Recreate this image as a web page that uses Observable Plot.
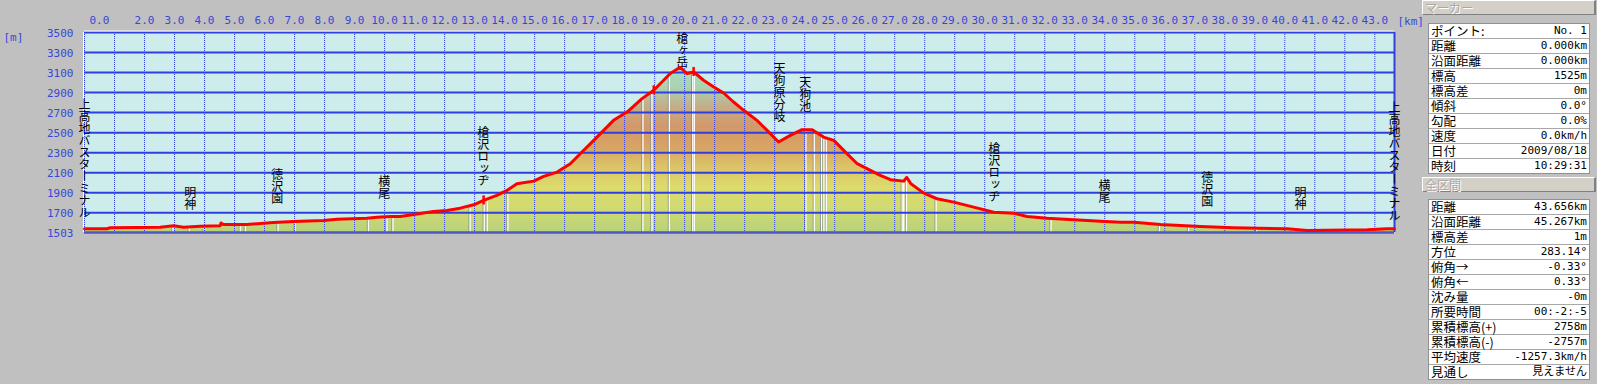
<!DOCTYPE html>
<html><head><meta charset="utf-8">
<script src="https://cdn.jsdelivr.net/npm/d3@7"></script>
<script src="https://cdn.jsdelivr.net/npm/@observablehq/plot@0.6"></script>
<style>
html,body{margin:0;padding:0;background:#c0c0c0;}
#wrap{position:relative;width:1597px;height:384px;overflow:hidden;background:#c0c0c0;}
#chart{position:absolute;left:0;top:0;}
.hdr{position:absolute;left:1422px;width:169px;height:13px;background:#d4d0c8;border-top:1px solid #fff;border-left:1px solid #fff;border-right:2px solid #808080;border-bottom:1px solid #808080;color:#a8a8a8;text-shadow:1px 1px 0 #fff;font-family:"Noto Sans CJK JP",sans-serif;font-size:12px;line-height:13px;padding-left:2px;}
.tbl{position:absolute;left:1428px;width:160px;background:#fff;border:1px solid #909090;}
.row{height:14px;border-bottom:1px solid #a8a8a8;display:flex;justify-content:space-between;align-items:center;padding:0 2px;font-size:12px;line-height:14px;color:#000;}
.row:last-child{border-bottom:none;}
.row .k{font-family:"Noto Sans CJK JP",sans-serif;font-size:12.5px;}
.row .v{font-family:"DejaVu Sans Mono","Noto Sans CJK JP",monospace;font-size:11px;}
svg text.vert{writing-mode:vertical-rl;text-orientation:mixed;}
</style>
</head><body>
<div id="wrap">
  <div id="chart"></div>
  <div class="hdr" style="top:0px">マーカー</div>
  <div class="tbl" id="t1" style="top:23px"></div>
  <div class="hdr" style="top:177px">全区間</div>
  <div class="tbl" id="t2" style="top:199px"></div>
</div>
<script>
// ---- data ----
const profileKm = [0.00,0.75,0.86,2.52,2.97,3.30,3.86,4.52,4.55,4.63,5.41,6.30,6.97,7.97,8.41,9.41,9.75,10.19,10.52,10.97,11.63,12.08,12.52,12.97,13.30,13.74,14.08,14.41,14.97,15.30,15.75,16.19,16.52,16.97,17.30,17.63,18.08,18.58,18.97,19.30,19.52,19.85,20.08,20.30,20.63,20.97,21.30,21.63,21.97,22.41,22.75,23.13,23.52,23.91,24.25,24.63,24.97,25.30,25.75,26.19,26.52,26.86,27.30,27.40,27.54,27.97,28.41,28.97,29.63,30.30,30.97,31.41,32.08,32.97,33.86,34.52,34.97,35.86,37.19,38.30,40.08,40.75,42.75,43.41,43.656];
const profileElev = [1540,1540,1550,1556,1570,1556,1566,1570,1598,1583,1583,1603,1613,1623,1636,1646,1656,1663,1663,1683,1713,1723,1746,1780,1823,1873,1923,1990,2016,2063,2106,2190,2290,2423,2523,2623,2706,2840,2923,3023,3090,3153,3090,3106,3023,2956,2896,2806,2723,2623,2523,2406,2473,2530,2530,2456,2423,2323,2190,2123,2073,2030,2016,2053,1990,1896,1840,1806,1756,1706,1696,1663,1646,1630,1616,1606,1606,1583,1563,1550,1540,1523,1530,1540,1540];

const waypointNames = ["上高地バスターミナル","明神","徳沢園","横尾","槍沢ロッヂ","槍ヶ岳","天狗原分岐","天狗池","槍沢ロッヂ","横尾","徳沢園","明神","上高地バスターミナル"];
const waypointKm    = [0, 3.52, 6.42, 9.99, 13.29, 19.92, 23.16, 24.02, 30.32, 33.99, 37.42, 40.52, 43.656];
const waypointTop   = [2840, 1960, 2140, 2070, 2560, 3500, 3200, 3060, 2400, 2030, 2110, 1960, 2810];

const photoKm = [2.95,3.49,3.99,5.19,5.36,6.45,7.02,9.46,10.08,10.28,12.85,13.32,13.42,14.11,18.61,18.91,19.49,20.27,20.32,24.04,24.32,24.56,24.64,24.72,27.25,27.30,27.39,28.38,32.21,35.82,36.79,39.06,40.28];
const crossKm = [13.30, 18.97, 20.30];

const xTicks = [0,2,3,4,5,6,7,8,9,10,11,12,13,14,15,16,17,18,19,20,21,22,23,24,25,26,27,28,29,30,31,32,33,34,35,36,37,38,39,40,41,42,43];
const xGrid = d3.range(0, 44);
const yTicks = [1503,1700,1900,2100,2300,2500,2700,2900,3100,3300,3500];
const yGrid = [1700,1900,2100,2300,2500,2700,2900,3100,3300,3500];
const totalKm = 43.656, yMin = 1503, yMax = 3500;

const markerLabels = ["ポイント:","距離","沿面距離","標高","標高差","傾斜","勾配","速度","日付","時刻"];
const markerValues = ["No. 1","0.000km","0.000km","1525m","0m","0.0°","0.0%","0.0km/h","2009/08/18","10:29:31"];
const totalLabels = ["距離","沿面距離","標高差","方位","俯角→","俯角←","沈み量","所要時間","累積標高(+)","累積標高(-)","平均速度","見通し"];
const totalValues = ["43.656km","45.267km","1m","283.14°","-0.33°","0.33°","-0m","00:-2:-5","2758m","-2757m","-1257.3km/h","見えません"];

// ---- derived tables ----
const profile = profileKm.map((km, i) => ({km, elev: profileElev[i]}));
const waypoints = waypointNames.map((name, i) => ({name, km: waypointKm[i], top: waypointTop[i]}));
const elevAt = km => {
  const i = Math.max(1, d3.bisector(d => d.km).left(profile, km));
  const a = profile[i - 1], b = profile[Math.min(i, profile.length - 1)];
  const t = b.km === a.km ? 0 : (km - a.km) / (b.km - a.km);
  return a.elev + t * (b.elev - a.elev);
};
const photos = photoKm.map(km => ({km, elev: elevAt(km) - 20}));
const crosses = crossKm.map(km => ({km, lo: elevAt(km) - 45, hi: elevAt(km) + 45}));

const BLUE = "#2d3fe0", LABEL = "#3a46d6";

function gradientDefs(index, scales) {
  const y = scales.y;
  const defs = d3.create("svg:defs");
  const g = defs.append("linearGradient").attr("id", "elevGrad")
    .attr("gradientUnits", "userSpaceOnUse")
    .attr("x1", 0).attr("x2", 0).attr("y1", y(yMin)).attr("y2", y(yMax));
  const stops = [[1503,"#b8d27a"],[1750,"#d2da70"],[1950,"#dcdc6c"],[2150,"#dcc468"],[2350,"#d8a464"],[2550,"#d49868"],[2750,"#c4ac88"],[2950,"#acd2b0"],[3150,"#a2e0c2"],[3500,"#a0e6c8"]];
  for (const [e, c] of stops) g.append("stop").attr("offset", (e - yMin) / (yMax - yMin)).attr("stop-color", c);
  return defs.node();
}

const chart = Plot.plot({
  width: 1422, height: 384,
  marginTop: 32, marginBottom: 152, marginLeft: 84, marginRight: 28,
  style: {background: "transparent", fontFamily: "DejaVu Sans Mono, monospace", fontSize: "11px", overflow: "visible"},
  x: {domain: [0, totalKm]},
  y: {domain: [yMin, yMax]},
  marks: [
    Plot.frame({fill: "#cdecec", stroke: null}),
    gradientDefs,
    Plot.areaY(profile, {x: "km", y1: yMin, y2: "elev", fill: "url(#elevGrad)"}),
    Plot.ruleX(photos, {x: "km", y1: yMin, y2: "elev", stroke: "#7a8a8a", strokeWidth: 1, dx: -1}),
    Plot.ruleX(photos, {x: "km", y1: yMin, y2: "elev", stroke: "#ffffff", strokeWidth: 1.3}),
    Plot.gridX(xGrid, {stroke: BLUE, strokeOpacity: 1, strokeWidth: 1, strokeDasharray: "1,1"}),
    Plot.gridY(yGrid, {stroke: BLUE, strokeOpacity: 1, strokeWidth: 2}),
    Plot.ruleY([yMax], {stroke: "#ffffff", strokeWidth: 1, dy: -1.5}),
    Plot.ruleX([0], {stroke: "#ffffff", strokeWidth: 1, dx: -1}),
    Plot.ruleX([totalKm], {stroke: BLUE, strokeWidth: 2}),
    Plot.ruleY([yMin], {stroke: "#4a58c0", strokeWidth: 2.5}),
    Plot.text(waypoints, {x: "km", y: "top", text: "name", textAnchor: "start", lineAnchor: "bottom", fontSize: 12, fontFamily: "Noto Sans CJK JP", fill: "#000"}),
    Plot.ruleX(crosses, {x: "km", y1: "lo", y2: "hi", stroke: "#ff0000", strokeWidth: 2.5}),
    Plot.line(profile, {x: "km", y: "elev", stroke: "#ff0000", strokeWidth: 3, strokeLinejoin: "round"}),
    Plot.axisX(xTicks.slice(1), {anchor: "top", tickSize: 0, tickPadding: 9, tickFormat: d => d.toFixed(1), fill: LABEL, fontSize: 11, label: null}),
    Plot.axisX(xTicks.slice(0, 1), {anchor: "top", tickSize: 0, tickPadding: 9, tickFormat: d => d.toFixed(1), fill: LABEL, fontSize: 11, textAnchor: "start", dx: 5, label: null}),
    Plot.axisY(yTicks, {anchor: "left", tickSize: 0, tickPadding: 11, tickFormat: d => String(d), fill: LABEL, fontSize: 11, dy: 1, label: null}),
    Plot.text(["[m]"], {frameAnchor: "top-left", dx: -81, dy: 1, textAnchor: "start", fill: LABEL, fontSize: 11}),
    Plot.text(["[km]"], {frameAnchor: "top-right", dx: 3, dy: -15, textAnchor: "start", fill: LABEL, fontSize: 11})
  ]
});
document.getElementById("chart").appendChild(chart);
d3.select(chart).selectAll("text")
  .filter(function() { return waypointNames.includes(this.textContent); })
  .classed("vert", true)
  .attr("writing-mode", "tb")
  .style("writing-mode", "vertical-rl")
  .attr("y", null).attr("dy", null);

function fillTable(id, labels, values) {
  const t = d3.select("#" + id);
  labels.forEach((k, i) => {
    const r = t.append("div").attr("class", "row");
    r.append("span").attr("class", "k").text(k);
    r.append("span").attr("class", "v").text(values[i]);
  });
}
fillTable("t1", markerLabels, markerValues);
fillTable("t2", totalLabels, totalValues);
</script>
</body></html>
